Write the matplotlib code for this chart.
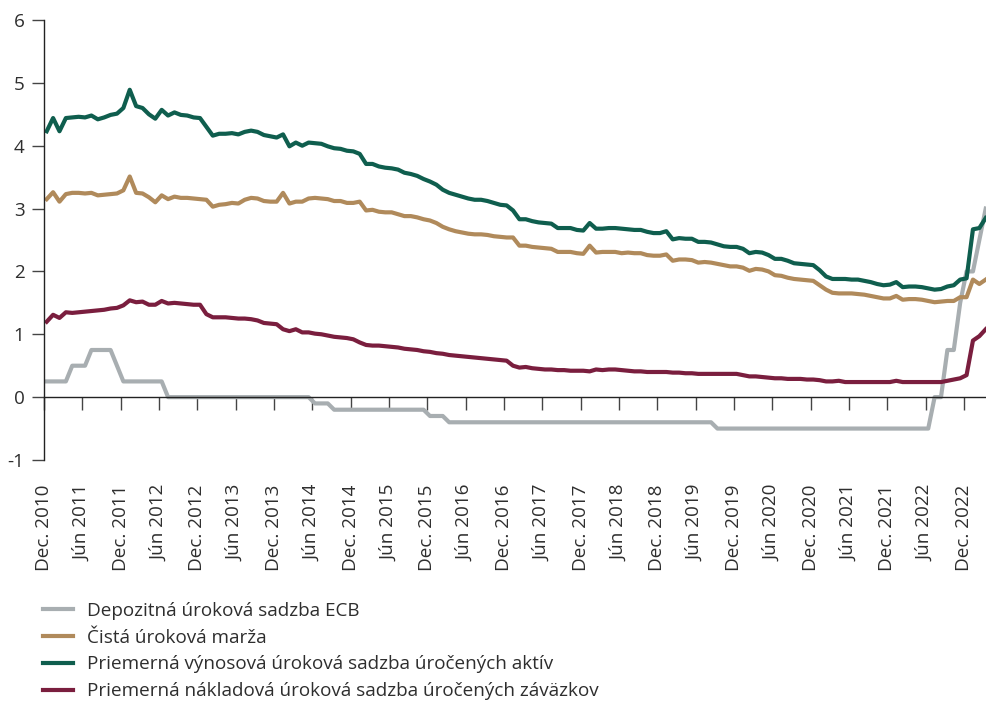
import matplotlib
matplotlib.use("Agg")
import matplotlib.pyplot as plt
import numpy as np

plt.rcParams['font.family'] = ['Open Sans', 'DejaVu Sans']

# Monthly data, Dec 2010 .. Mar 2023
ecb_rate = [
    0.25, 0.25, 0.25, 0.25, 0.5, 0.5, 0.5, 0.75, 0.75, 0.75, 0.75, 0.5,
    0.25, 0.25, 0.25, 0.25, 0.25, 0.25, 0.25, 0.0, 0.0, 0.0, 0.0, 0.0,
    0.0, 0.0, 0.0, 0.0, 0.0, 0.0, 0.0, 0.0, 0.0, 0.0, 0.0, 0.0,
    0.0, 0.0, 0.0, 0.0, 0.0, 0.0, -0.1, -0.1, -0.1, -0.2, -0.2, -0.2,
    -0.2, -0.2, -0.2, -0.2, -0.2, -0.2, -0.2, -0.2, -0.2, -0.2, -0.2, -0.2,
    -0.3, -0.3, -0.3, -0.4, -0.4, -0.4, -0.4, -0.4, -0.4, -0.4, -0.4, -0.4,
    -0.4, -0.4, -0.4, -0.4, -0.4, -0.4, -0.4, -0.4, -0.4, -0.4, -0.4, -0.4,
    -0.4, -0.4, -0.4, -0.4, -0.4, -0.4, -0.4, -0.4, -0.4, -0.4, -0.4, -0.4,
    -0.4, -0.4, -0.4, -0.4, -0.4, -0.4, -0.4, -0.4, -0.4, -0.5, -0.5, -0.5,
    -0.5, -0.5, -0.5, -0.5, -0.5, -0.5, -0.5, -0.5, -0.5, -0.5, -0.5, -0.5,
    -0.5, -0.5, -0.5, -0.5, -0.5, -0.5, -0.5, -0.5, -0.5, -0.5, -0.5, -0.5,
    -0.5, -0.5, -0.5, -0.5, -0.5, -0.5, -0.5, 0.0, 0.0, 0.75, 0.75, 1.5,
    2.0, 2.0, 2.5, 3.0,
]

net_margin = [
    3.15, 3.26, 3.11, 3.23, 3.25, 3.25, 3.24, 3.25, 3.21, 3.22, 3.23, 3.24,
    3.29, 3.51, 3.25, 3.24, 3.18, 3.10, 3.21, 3.15, 3.19, 3.17, 3.17, 3.16,
    3.15, 3.14, 3.03, 3.06, 3.07, 3.09, 3.08, 3.14, 3.17, 3.16, 3.12, 3.11,
    3.11, 3.25, 3.08, 3.11, 3.11, 3.16, 3.17, 3.16, 3.15, 3.12, 3.12, 3.09,
    3.09, 3.11, 2.97, 2.98, 2.95, 2.94, 2.94, 2.91, 2.88, 2.88, 2.86, 2.83,
    2.81, 2.77, 2.71, 2.67, 2.64, 2.62, 2.60, 2.59, 2.59, 2.58, 2.56, 2.55,
    2.54, 2.54, 2.41, 2.41, 2.39, 2.38, 2.37, 2.36, 2.31, 2.31, 2.31, 2.29,
    2.28, 2.41, 2.30, 2.31, 2.31, 2.31, 2.29, 2.30, 2.29, 2.29, 2.26, 2.25,
    2.25, 2.27, 2.17, 2.19, 2.19, 2.18, 2.14, 2.15, 2.14, 2.12, 2.10, 2.08,
    2.08, 2.06, 2.01, 2.04, 2.03, 2.00, 1.94, 1.93, 1.90, 1.88, 1.87, 1.86,
    1.85, 1.78, 1.71, 1.66, 1.65, 1.65, 1.65, 1.64, 1.63, 1.61, 1.59, 1.57,
    1.57, 1.61, 1.55, 1.56, 1.56, 1.55, 1.53, 1.51, 1.52, 1.53, 1.53, 1.59,
    1.59, 1.87, 1.80, 1.87,
]

asset_yield = [
    4.23, 4.44, 4.23, 4.44, 4.45, 4.46, 4.45, 4.48, 4.42, 4.45, 4.49, 4.51,
    4.60, 4.89, 4.63, 4.60, 4.50, 4.43, 4.57, 4.48, 4.53, 4.49, 4.48, 4.45,
    4.44, 4.30, 4.16, 4.19, 4.19, 4.20, 4.18, 4.22, 4.24, 4.22, 4.17, 4.15,
    4.13, 4.18, 3.99, 4.05, 4.00, 4.05, 4.04, 4.03, 3.99, 3.96, 3.95, 3.92,
    3.91, 3.87, 3.71, 3.71, 3.67, 3.65, 3.64, 3.62, 3.57, 3.55, 3.52, 3.47,
    3.43, 3.38, 3.30, 3.25, 3.22, 3.19, 3.16, 3.14, 3.14, 3.12, 3.09, 3.06,
    3.05, 2.97, 2.83, 2.83, 2.80, 2.78, 2.77, 2.76, 2.69, 2.69, 2.69, 2.66,
    2.65, 2.77, 2.68, 2.68, 2.69, 2.69, 2.68, 2.67, 2.66, 2.66, 2.63, 2.61,
    2.61, 2.64, 2.51, 2.53, 2.52, 2.52, 2.47, 2.47, 2.46, 2.43, 2.40, 2.39,
    2.39, 2.36, 2.29, 2.31, 2.30, 2.26, 2.20, 2.20, 2.17, 2.13, 2.12, 2.11,
    2.10, 2.02, 1.92, 1.88, 1.88, 1.88, 1.87, 1.87, 1.85, 1.83, 1.80, 1.78,
    1.79, 1.83, 1.75, 1.76, 1.76, 1.75, 1.73, 1.71, 1.72, 1.76, 1.78, 1.87,
    1.89, 2.67, 2.69, 2.85,
]

liability_cost = [
    1.20, 1.31, 1.26, 1.35, 1.34, 1.35, 1.36, 1.37, 1.38, 1.39, 1.41, 1.42,
    1.46, 1.54, 1.51, 1.52, 1.47, 1.47, 1.53, 1.49, 1.50, 1.49, 1.48, 1.47,
    1.47, 1.32, 1.27, 1.27, 1.27, 1.26, 1.25, 1.25, 1.24, 1.22, 1.18, 1.17,
    1.16, 1.08, 1.05, 1.08, 1.03, 1.03, 1.01, 1.00, 0.98, 0.96, 0.95, 0.94,
    0.92, 0.87, 0.83, 0.82, 0.82, 0.81, 0.80, 0.79, 0.77, 0.76, 0.75, 0.73,
    0.72, 0.70, 0.69, 0.67, 0.66, 0.65, 0.64, 0.63, 0.62, 0.61, 0.60, 0.59,
    0.58, 0.50, 0.47, 0.48, 0.46, 0.45, 0.44, 0.44, 0.43, 0.43, 0.42, 0.42,
    0.42, 0.41, 0.44, 0.43, 0.44, 0.44, 0.43, 0.42, 0.41, 0.41, 0.40, 0.40,
    0.40, 0.40, 0.39, 0.39, 0.38, 0.38, 0.37, 0.37, 0.37, 0.37, 0.37, 0.37,
    0.37, 0.35, 0.33, 0.33, 0.32, 0.31, 0.30, 0.30, 0.29, 0.29, 0.29, 0.28,
    0.28, 0.27, 0.25, 0.25, 0.26, 0.24, 0.24, 0.24, 0.24, 0.24, 0.24, 0.24,
    0.24, 0.26, 0.24, 0.24, 0.24, 0.24, 0.24, 0.24, 0.24, 0.26, 0.28, 0.30,
    0.35, 0.90, 0.97, 1.08,
]

tick_labels = [
    "Dec. 2010", "Jún 2011", "Dec. 2011", "Jún 2012", "Dec. 2012", "Jún 2013",
    "Dec. 2013", "Jún 2014", "Dec. 2014", "Jún 2015", "Dec. 2015", "Jún 2016",
    "Dec. 2016", "Jún 2017", "Dec. 2017", "Jún 2018", "Dec. 2018", "Jún 2019",
    "Dec. 2019", "Jún 2020", "Dec. 2020", "Jún 2021", "Dec. 2021", "Jún 2022",
    "Dec. 2022",
]

series_labels = [
    "Depozitná úroková sadzba ECB",
    "Čistá úroková marža",
    "Priemerná výnosová úroková sadzba úročených aktív",
    "Priemerná nákladová úroková sadzba úročených záväzkov",
]
colors = ["#A8AEB1", "#B08A5B", "#0F5E4E", "#7A1E3E"]

text_color = "#2E2E2E"
fs = 13.6

fig = plt.figure(figsize=(9.87, 7.04), dpi=100)
ax = fig.add_axes([0.0446, 0.3466, 0.9554, 0.625])

x = np.arange(len(ecb_rate))
handles = []
for vals, lab, col in zip([ecb_rate, net_margin, asset_yield, liability_cost], series_labels, colors):
    h, = ax.plot(x, vals, color=col, lw=3.0, label=lab)
    handles.append(h)

ax.set_xlim(-0.42, 147.2)
ax.set_ylim(-1, 6)
ax.set_yticks(range(-1, 7))
ax.set_yticklabels([str(v) for v in range(-1, 7)])

for s in ["top", "right"]:
    ax.spines[s].set_visible(False)
ax.spines["bottom"].set_position(("data", 0))
ax.spines["bottom"].set_color("#222222")
ax.spines["left"].set_color("#222222")
ax.spines["bottom"].set_linewidth(1.0)
ax.spines["left"].set_linewidth(1.0)

tick_pos = [-0.42 + 6 * k for k in range(len(tick_labels))]
ax.set_xticks(tick_pos)
ax.set_xticklabels([])
ax.tick_params(axis="x", direction="out", length=9, width=1, color="#444444")
ax.tick_params(axis="y", direction="out", length=9, width=1, color="#444444",
               labelsize=fs, labelcolor=text_color, pad=5)

sec = ax.secondary_xaxis("bottom")
sec.set_xticks(tick_pos)
sec.set_xticklabels(tick_labels, rotation=90)
sec.tick_params(axis="x", length=0, pad=18, labelsize=fs, labelcolor=text_color)
sec.spines["bottom"].set_visible(False)

fig.legend(handles=handles, labels=series_labels, loc="upper left",
           bbox_to_anchor=(0.036, 0.156), frameon=False, fontsize=fs,
           handlelength=1.6, handletextpad=0.7, labelspacing=0.47,
           labelcolor=text_color, borderaxespad=0)

fig.savefig("out.png", dpi=100)
